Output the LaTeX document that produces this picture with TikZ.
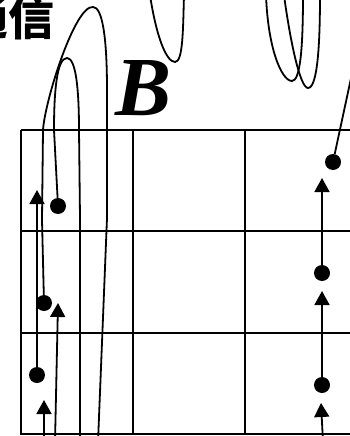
\documentclass[tikz,border=0pt]{standalone}
\usepackage{fontspec}
\usetikzlibrary{arrows.meta}
\newfontfamily\cjkfont{Noto Sans CJK SC}
\newfontfamily\serifit{Liberation Serif}
\tikzset{
  gridline/.style={line width=2.2pt},
  fline/.style={line width=1.8pt},
  arrline/.style={fline,{Triangle[width=15pt,length=14pt]}-},
  fdot/.style={circle,fill=black,inner sep=0pt,minimum size=16pt},
}
\begin{document}
\begin{tikzpicture}[x=1pt,y=-1pt]
\useasboundingbox (0,0) rectangle (350,436);
% grid
\draw[gridline] (21,130) -- (356,130);
\draw[gridline] (21,231) -- (356,231);
\draw[gridline] (21,333) -- (356,333);
\draw[gridline] (21,434) -- (356,434);
\draw[gridline] (21,130) -- (21,435);
\draw[gridline] (133,130) -- (133,435);
\draw[gridline] (245,130) -- (245,435);
% texts
\node[anchor=base east,inner sep=0pt] (txt) at (55,36) {\cjkfont\bfseries\fontsize{46pt}{46pt}\selectfont 通信};
\node[anchor=base west,inner sep=0pt] (lblB) at (115,115) {\serifit\bfseries\itshape\fontsize{84pt}{84pt}\selectfont B};
% dots
\node[fdot] (d1) at (58,206) {};
\node[fdot] (d2) at (44,303) {};
\node[fdot] (d3) at (37,375) {};
\node[fdot] (r1) at (333,162) {};
\node[fdot] (r2) at (322,273) {};
\node[fdot] (r3) at (322,385) {};
% arrow tips and free ends
\coordinate (a1) at (37,190);
\coordinate (a2) at (58,303);
\coordinate (a3) at (44,400);
\coordinate (ra1) at (322,178);
\coordinate (ra2) at (322,291);
\coordinate (ra3) at (321,403);
\coordinate (e2) at (55,442);
\coordinate (e3) at (44,442);
\coordinate (er3) at (323,442);
\coordinate (es) at (80,442);
\coordinate (eb) at (98,442);
\coordinate (er1) at (356,55);
% left column
\draw[arrline] (a1) -- (d3);
\draw[arrline] (a2) -- (e2);
\draw[arrline] (a3) -- (e3);
% small loop
\draw[fline] (d1) -- (54,130) .. controls (54,90) and (57,58) .. (67,58)
  .. controls (76,58) and (79,90) .. (79,130) -- (80,218) -- (es);
% big loop
\draw[fline] (d2) -- (42,220) -- (43,130) .. controls (45,100) and (75,5) .. (93,7)
  .. controls (102,7) and (107,35) .. (107,90) -- (107,218) -- (eb);
% right column
\draw[arrline] (ra1) -- (r2);
\draw[arrline] (ra2) -- (r3);
\draw[arrline] (ra3) -- (er3);
\draw[fline] (r1) -- (er1);
% hanging loops at top
\draw[fline] (150,-5) .. controls (156,35) and (166,62) .. (175,62)
  .. controls (183,62) and (183,30) .. (184,-5);
\draw[fline] (266,-5) .. controls (268,50) and (282,81) .. (292,81)
  .. controls (300,81) and (303,50) .. (303,-5);
\draw[fline] (284,-5) .. controls (290,40) and (300,88) .. (308,88)
  .. controls (318,88) and (320,40) .. (320,-5);
\end{tikzpicture}
\end{document}
